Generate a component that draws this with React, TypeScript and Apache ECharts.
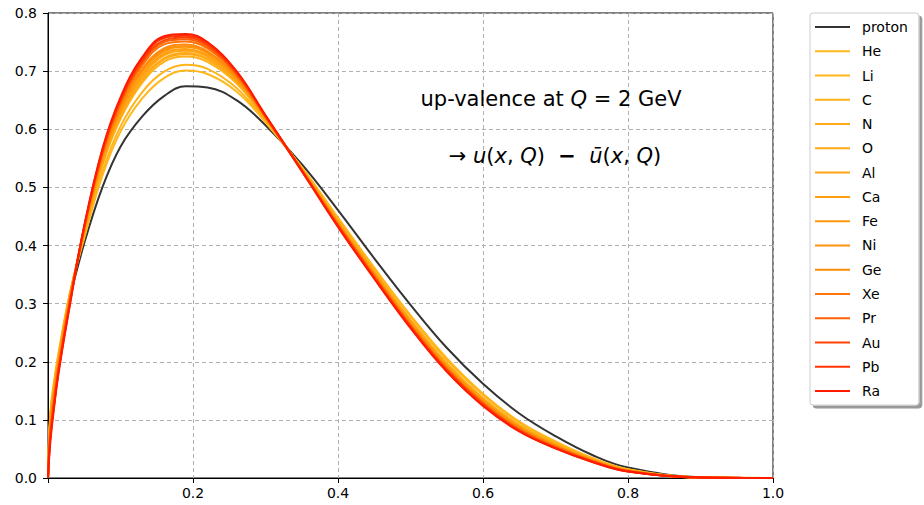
import React, { useEffect, useRef } from 'react';
import * as echarts from 'echarts';

const X = [0, 0.003, 0.008, 0.015, 0.03, 0.05, 0.075, 0.1, 0.13, 0.16, 0.19, 0.22, 0.26, 0.3, 0.35, 0.4, 0.45, 0.5, 0.55, 0.6, 0.65, 0.7, 0.75, 0.8, 0.9, 1.0];

const NAMES = ['proton', 'He', 'Li', 'C', 'N', 'O', 'Al', 'Ca', 'Fe', 'Ni', 'Ge', 'Xe', 'Pr', 'Au', 'Pb', 'Ra'];

const protonY = [0, 0.1, 0.155, 0.21, 0.308, 0.404, 0.5, 0.57, 0.622, 0.657, 0.674, 0.672, 0.650, 0.607, 0.54, 0.461, 0.378, 0.298, 0.224, 0.162, 0.111, 0.072, 0.040, 0.018, 0.0015, 0];
const heY = [0, 0.108, 0.163, 0.218, 0.317, 0.413, 0.520, 0.596, 0.653, 0.688, 0.701, 0.695, 0.665, 0.612, 0.535, 0.448, 0.362, 0.280, 0.206, 0.145, 0.097, 0.063, 0.035, 0.015, 0.0012, 0];
const liY = [0, 0.105, 0.160, 0.216, 0.316, 0.416, 0.527, 0.605, 0.664, 0.699, 0.711, 0.704, 0.671, 0.614, 0.534, 0.446, 0.360, 0.278, 0.203, 0.143, 0.095, 0.061, 0.034, 0.0145, 0.0011, 0];
const cY = [0, 0.100, 0.155, 0.212, 0.314, 0.421, 0.538, 0.618, 0.680, 0.716, 0.725, 0.716, 0.679, 0.617, 0.532, 0.442, 0.355, 0.272, 0.197, 0.137, 0.091, 0.058, 0.032, 0.0135, 0.001, 0];
const nY = [0, 0.098, 0.153, 0.211, 0.313, 0.422, 0.540, 0.622, 0.684, 0.720, 0.729, 0.720, 0.681, 0.617, 0.532, 0.442, 0.355, 0.271, 0.197, 0.137, 0.090, 0.058, 0.032, 0.0133, 0.001, 0];
const oY = [0, 0.097, 0.152, 0.210, 0.313, 0.423, 0.542, 0.624, 0.686, 0.722, 0.731, 0.721, 0.682, 0.618, 0.532, 0.441, 0.354, 0.271, 0.196, 0.136, 0.090, 0.058, 0.032, 0.0132, 0.001, 0];
const alY = [0, 0.092, 0.148, 0.206, 0.311, 0.424, 0.545, 0.628, 0.691, 0.727, 0.735, 0.725, 0.684, 0.619, 0.531, 0.440, 0.353, 0.269, 0.194, 0.135, 0.089, 0.057, 0.031, 0.013, 0.001, 0];
const caY = [0, 0.088, 0.143, 0.203, 0.309, 0.425, 0.547, 0.630, 0.694, 0.730, 0.738, 0.727, 0.686, 0.619, 0.531, 0.439, 0.352, 0.268, 0.193, 0.134, 0.088, 0.056, 0.031, 0.0128, 0.001, 0];
const feY = [0, 0.085, 0.141, 0.201, 0.308, 0.427, 0.550, 0.634, 0.699, 0.734, 0.742, 0.731, 0.688, 0.620, 0.531, 0.438, 0.351, 0.267, 0.192, 0.132, 0.087, 0.056, 0.031, 0.0125, 0.0009, 0];
const niY = [0, 0.084, 0.140, 0.200, 0.307, 0.427, 0.551, 0.635, 0.701, 0.736, 0.743, 0.732, 0.689, 0.620, 0.530, 0.438, 0.350, 0.266, 0.191, 0.132, 0.086, 0.055, 0.030, 0.0124, 0.0009, 0];
const geY = [0, 0.082, 0.138, 0.199, 0.307, 0.428, 0.553, 0.638, 0.704, 0.739, 0.746, 0.734, 0.690, 0.621, 0.530, 0.437, 0.349, 0.265, 0.190, 0.131, 0.086, 0.055, 0.030, 0.0123, 0.0009, 0];
const xeY = [0, 0.076, 0.132, 0.194, 0.304, 0.430, 0.557, 0.643, 0.710, 0.746, 0.751, 0.739, 0.693, 0.622, 0.530, 0.436, 0.348, 0.263, 0.188, 0.129, 0.084, 0.054, 0.030, 0.0119, 0.0009, 0];
const prY = [0, 0.073, 0.129, 0.192, 0.302, 0.431, 0.559, 0.647, 0.714, 0.750, 0.755, 0.742, 0.695, 0.622, 0.529, 0.435, 0.347, 0.262, 0.187, 0.128, 0.083, 0.053, 0.029, 0.0117, 0.0009, 0];
const auY = [0, 0.068, 0.124, 0.189, 0.300, 0.432, 0.561, 0.649, 0.717, 0.753, 0.758, 0.745, 0.697, 0.623, 0.529, 0.434, 0.345, 0.261, 0.186, 0.127, 0.082, 0.052, 0.029, 0.0115, 0.0008, 0];
const pbY = [0, 0.066, 0.121, 0.187, 0.299, 0.433, 0.564, 0.652, 0.721, 0.757, 0.761, 0.748, 0.699, 0.623, 0.528, 0.433, 0.344, 0.259, 0.184, 0.125, 0.081, 0.051, 0.028, 0.0112, 0.0008, 0];
const raY = [0, 0.058, 0.117, 0.184, 0.296, 0.434, 0.566, 0.655, 0.724, 0.760, 0.764, 0.750, 0.700, 0.624, 0.529, 0.432, 0.343, 0.258, 0.183, 0.124, 0.080, 0.051, 0.028, 0.011, 0.0008, 0];

const COLORS = ['#333333', '#ffb81c', '#ffb41a', '#ffb018', '#ffac16', '#ffa814', '#ffa412', '#ff9f10', '#ff980e', '#ff920c', '#ff8a0a', '#ff7408', '#ff6206', '#ff4404', '#ff3202', '#ff1a00'];

const X_TICKS_INTERVAL = 0.2;
const Y_TICKS_INTERVAL = 0.1;

const FONT = 'DejaVu Sans';

export default function App() {
  const ref = useRef<HTMLDivElement>(null);
  useEffect(() => {
    const chart = echarts.init(ref.current!, null, { renderer: 'svg' });
    const seriesY = [protonY, heY, liY, cY, nY, oY, alY, caY, feY, niY, geY, xeY, prY, auY, pbY, raY];
    const series = NAMES.map((name, i) => ({
      name,
      type: 'line',
      data: X.map((x, j) => [x, seriesY[i][j]]),
      showSymbol: false,
      symbol: 'none',
      smooth: 0.4,
      lineStyle: { width: 2, color: COLORS[i] },
      itemStyle: { color: COLORS[i] },
      z: 2 + i,
    }));
    const gridLine = { show: true, lineStyle: { color: '#b0b0b0', type: [4, 3], width: 1 } };
    chart.setOption({
      animation: false,
      backgroundColor: '#ffffff',
      textStyle: { fontFamily: FONT },
      grid: { left: 48, top: 13, width: 725, height: 465, show: true, borderColor: '#000', borderWidth: 1, backgroundColor: 'transparent' },
      xAxis: {
        type: 'value', min: 0, max: 1, interval: X_TICKS_INTERVAL,
        axisLine: { show: true, lineStyle: { color: '#000', width: 1 } },
        axisTick: { show: true, length: 5, lineStyle: { color: '#000' } },
        axisLabel: { color: '#000', fontSize: 14, fontFamily: FONT, margin: 8, formatter: (v: number) => (v === 0 ? '' : v.toFixed(1)) },
        splitLine: gridLine,
      },
      yAxis: {
        type: 'value', min: 0, max: 0.8, interval: Y_TICKS_INTERVAL,
        axisLine: { show: true, lineStyle: { color: '#000', width: 1 } },
        axisTick: { show: true, length: 5, lineStyle: { color: '#000' } },
        axisLabel: { color: '#000', fontSize: 14, fontFamily: FONT, margin: 11, formatter: (v: number) => v.toFixed(1) },
        splitLine: gridLine,
      },
      legend: {
        orient: 'vertical', left: 810, top: 13,
        data: NAMES,
        icon: 'rect', itemWidth: 35, itemHeight: 2, itemGap: 8.27,
        padding: [6, 11, 6, 5],
        backgroundColor: '#ffffff', borderColor: '#cccccc', borderWidth: 1, borderRadius: 3,
        shadowColor: 'rgba(0,0,0,0.4)', shadowOffsetX: 3, shadowOffsetY: 3, shadowBlur: 0,
        textStyle: { color: '#000', fontSize: 14, fontFamily: FONT, lineHeight: 16, padding: [0, 0, 0, 7] },
      },
      graphic: [
        {
          type: 'text', x: 551, y: 99, z: 100,
          style: {
            text: '{n|up-valence at }{i|Q}{n| = 2 GeV}',
            align: 'center', verticalAlign: 'middle',
            rich: {
              n: { fontFamily: FONT, fontSize: 21, fill: '#000' },
              i: { fontFamily: FONT, fontSize: 21, fontStyle: 'italic', fill: '#000' },
            },
          },
        },
        {
          type: 'text', x: 555, y: 156, z: 100,
          style: {
            text: '{n|→ }{i|u}{n|(}{i|x}{n|, }{i|Q}{n|)  }{b|−}{n|  }{i|ū}{n|(}{i|x}{n|, }{i|Q}{n|)}',
            align: 'center', verticalAlign: 'middle',
            rich: {
              n: { fontFamily: FONT, fontSize: 21, fill: '#000' },
              b: { fontFamily: FONT, fontSize: 21, fontWeight: 'bold', fill: '#000' },
              i: { fontFamily: FONT, fontSize: 21, fontStyle: 'italic', fill: '#000' },
            },
          },
        },
      ],
      series,
    });
    return () => chart.dispose();
  }, []);
  return <div ref={ref} style={{ position: 'absolute', left: 0, top: 0, width: 924, height: 505 }} />;
}
